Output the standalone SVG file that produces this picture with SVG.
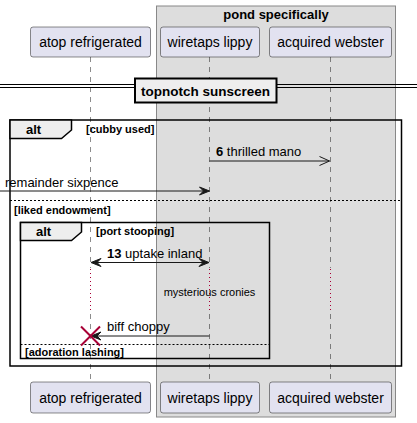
<svg xmlns="http://www.w3.org/2000/svg" width="417" height="423" viewBox="0 0 417 423">
<defs>
<style>
text{font-family:"Liberation Sans",Arial,sans-serif;fill:#000}
.part{fill:#E2E2F0;stroke:#181818;stroke-width:0.5}
.pt{font-size:14px}
.life{stroke:#181818;stroke-width:0.5;stroke-dasharray:5,5;fill:none}
.delay{stroke:#A80036;stroke-width:1;stroke-dasharray:1,3;fill:none}
.msg{stroke:#181818;stroke-width:1;fill:none}
.mt{font-size:13px}
.frame{fill:none;stroke:#000;stroke-width:1.5}
.tab{fill:#EEEEEE;stroke:#000;stroke-width:1.5}
.sep{stroke:#000;stroke-width:1;stroke-dasharray:2,2}
.b{font-weight:bold}
</style>
</defs>
<g id="group-pond">
<rect x="156.5" y="6" width="239" height="411" fill="#DDDDDD" stroke="#888888" stroke-width="1"/>
<text x="276" y="19" text-anchor="middle" class="b" font-size="13">pond specifically</text>
</g>
<g id="lifelines">
<line class="life" x1="90.5" y1="57" x2="90.5" y2="268"/>
<line class="life" x1="209.5" y1="57" x2="209.5" y2="268"/>
<line class="life" x1="330.5" y1="57" x2="330.5" y2="268"/>
<line class="delay" x1="90.5" y1="269" x2="90.5" y2="313"/>
<line class="delay" x1="209.5" y1="269" x2="209.5" y2="313"/>
<line class="delay" x1="330.5" y1="269" x2="330.5" y2="313"/>
<line class="life" x1="90.5" y1="314" x2="90.5" y2="382"/>
<line class="life" x1="209.5" y1="314" x2="209.5" y2="382"/>
<line class="life" x1="330.5" y1="314" x2="330.5" y2="382"/>
</g>
<g id="atop-refrigerated">
<rect class="part" x="30.5" y="27" width="120" height="30" rx="2.5"/>
<text class="pt" x="90.5" y="47" text-anchor="middle">atop refrigerated</text>
<rect class="part" x="30.5" y="382" width="120" height="31" rx="2.5"/>
<text class="pt" x="90.5" y="403" text-anchor="middle">atop refrigerated</text>
</g>
<g id="wiretaps-lippy">
<rect class="part" x="160.5" y="27" width="99" height="30" rx="2.5"/>
<text class="pt" x="210" y="47" text-anchor="middle">wiretaps lippy</text>
<rect class="part" x="160.5" y="382" width="99" height="31" rx="2.5"/>
<text class="pt" x="210" y="403" text-anchor="middle">wiretaps lippy</text>
</g>
<g id="acquired-webster">
<rect class="part" x="269.5" y="27" width="122" height="30" rx="2.5"/>
<text class="pt" x="330.5" y="47" text-anchor="middle">acquired webster</text>
<rect class="part" x="269.5" y="382" width="122" height="31" rx="2.5"/>
<text class="pt" x="330.5" y="403" text-anchor="middle">acquired webster</text>
</g>
<g id="divider-topnotch">
<line x1="0" y1="84.5" x2="417" y2="84.5" stroke="#000" stroke-width="1"/>
<line x1="0" y1="87.5" x2="417" y2="87.5" stroke="#000" stroke-width="1"/>
<rect x="135" y="78.5" width="141.5" height="24" fill="#EEEEEE" stroke="#000" stroke-width="2"/>
<text x="205.5" y="95.5" text-anchor="middle" class="b" font-size="13.5">topnotch sunscreen</text>
</g>
<g id="alt-outer">
<rect class="frame" x="10" y="120" width="391.5" height="246"/>
<path class="tab" d="M10,120 L71.5,120 L71.5,130 L61.5,138.5 L10,138.5 Z"/>
<text x="26" y="134" class="b" font-size="13">alt</text>
<text x="86" y="133" class="b" font-size="11">[cubby used]</text>
<line class="sep" x1="10" y1="200.5" x2="401.5" y2="200.5"/>
<text x="14" y="214" class="b" font-size="11">[liked endowment]</text>
</g>
<g id="alt-inner">
<rect class="frame" x="20.5" y="222.5" width="249" height="136"/>
<path class="tab" d="M20.5,222.5 L81.5,222.5 L81.5,232 L71.5,240.5 L20.5,240.5 Z"/>
<text x="36" y="236" class="b" font-size="13">alt</text>
<text x="96" y="235" class="b" font-size="11">[port stooping]</text>
<line class="sep" x1="20.5" y1="344.5" x2="269.5" y2="344.5"/>
<text x="25" y="356" class="b" font-size="11">[adoration lashing]</text>
</g>
<g id="connectors">
<g id="msg-6">
<line class="msg" x1="209.5" y1="161" x2="329.5" y2="161"/>
<polyline class="msg" points="319.5,156.5 329.5,161 319.5,165.5"/>
<text class="mt" x="216" y="156"><tspan class="b">6</tspan> thrilled mano</text>
</g>
<g id="msg-remainder">
<line class="msg" x1="0" y1="191" x2="205" y2="191"/>
<polygon points="209.5,191 199.5,187 203.5,191 199.5,195" fill="#181818" stroke="#181818" stroke-width="1"/>
<text class="mt" x="5" y="187">remainder sixpence</text>
</g>
<g id="msg-13">
<line class="msg" x1="93" y1="262.5" x2="207" y2="262.5"/>
<polygon points="91,262.5 101,258.5 97,262.5 101,266.5" fill="#181818" stroke="#181818" stroke-width="1"/>
<polygon points="209,262.5 199,258.5 203,262.5 199,266.5" fill="#181818" stroke="#181818" stroke-width="1"/>
<text class="mt" x="107" y="258"><tspan class="b">13</tspan> uptake inland</text>
</g>
<text x="209.5" y="296" text-anchor="middle" font-size="11">mysterious cronies</text>
<g id="msg-biff">
<line class="msg" x1="94" y1="336" x2="209.5" y2="336"/>
<polygon points="91,336 101,332 97,336 101,340" fill="#181818" stroke="#181818" stroke-width="1"/>
<text class="mt" x="107" y="331">biff choppy</text>
</g>
<g id="destroy">
<line x1="81" y1="326.5" x2="100" y2="345.5" stroke="#A80036" stroke-width="2"/>
<line x1="100" y1="326.5" x2="81" y2="345.5" stroke="#A80036" stroke-width="2"/>
</g>
</g>
</svg>
